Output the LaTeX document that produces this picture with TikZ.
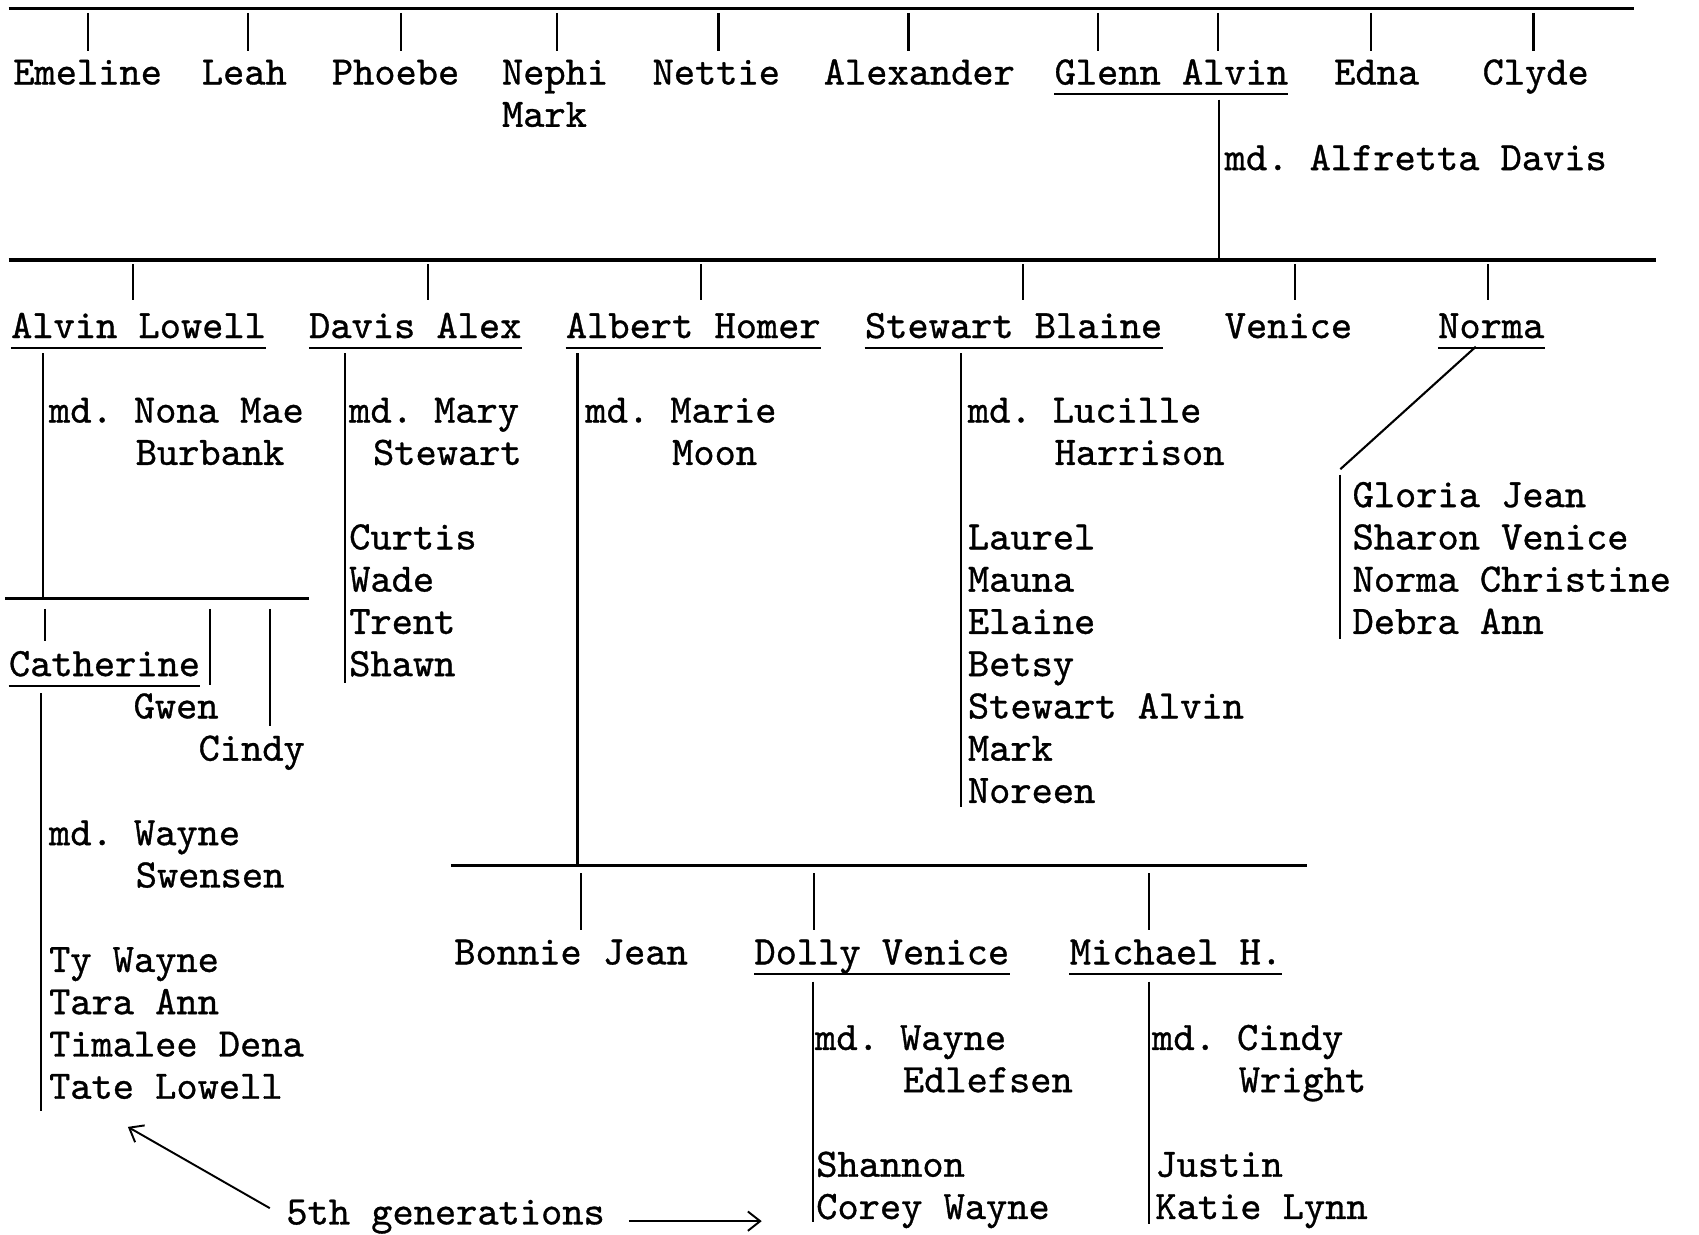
\documentclass[tikz,border=0pt]{standalone}
\usepackage{fontspec}
\newfontfamily\typeface{lmmono10-regular.otf}[FakeBold=0.8]
\usetikzlibrary{arrows.meta}
\newcommand{\typed}{\typeface\fontsize{23}{24}\selectfont\frenchspacing}
\tikzset{person/.style={anchor=base west,inner sep=0pt,font=\typed},
         genbar/.style={line width=1.8pt},
         drop/.style={line width=1.2pt},
         uline/.style={line width=1.4pt},
         arr/.style={line width=1.1pt,-{Straight Barb[length=7pt,width=11pt]}}}

\begin{document}
\begin{tikzpicture}[x=0.02167cm,y=-0.02167cm]
    \useasboundingbox (0,0) rectangle (1568,1139);
    % generation bars
    \draw[genbar] (8,8) coordinate (b1) -- (1508,8);
    \draw[genbar] (8,240) coordinate (b2) -- (1528,240);
    \draw[genbar] (5,552) coordinate (b3) -- (285,552);
    \draw[genbar] (416,799) coordinate (b4) -- (1206,799);
    % first row
    \node[person] (emeline)   at (12,78)   {Emeline};
    \node[person] (leah)      at (186,78)  {Leah};
    \node[person] (phoebe)    at (306,78)  {Phoebe};
    \node[person] (nephi)     at (463,78)  {Nephi};
    \node[person] (mark)      at (463,117) {Mark};
    \node[person] (nettie)    at (602,78)  {Nettie};
    \node[person] (alexander) at (760,78)  {Alexander};
    \node[person] (glenn)     at (973,78)  {Glenn Alvin};
    \node[person] (edna)      at (1231,78) {Edna};
    \node[person] (clyde)     at (1368,78) {Clyde};
    \node[person] (alfretta)  at (1130,157) {md. Alfretta Davis};
    \foreach \n/\dx in {emeline/0,leah/3,phoebe/5,nephi/2,nettie/2,alexander/-10,glenn/-68,glenn/43,edna/-5,clyde/-2}
        \draw[drop] ([shift={(\dx,0)}]\n.base |- b1) ++(0,4) -- ++(0,35);
    \draw[drop] ([shift={(-5,14)}]alfretta.base west |- glenn.base) coordinate (gt) -- (gt |- b2);
    % second row
    \node[person] (alvin)   at (10,312)   {Alvin Lowell};
    \node[person] (davis)   at (285,312)  {Davis Alex};
    \node[person] (albert)  at (522,312)  {Albert Homer};
    \node[person] (stewart) at (798,312)  {Stewart Blaine};
    \node[person] (venice)  at (1130,312) {Venice};
    \node[person] (norma)   at (1327,312) {Norma};
    \foreach \n/\dx in {alvin/-5,davis/12,albert/7,stewart/9,venice/6,norma/-3}
        \draw[drop] ([shift={(\dx,0)}]\n.base |- b2) ++(0,4) -- ++(0,33);
    % spouses
    \node[person] (alvinmd)  at (45,390)  {md. Nona Mae};
    \node[person] (alvinsp)  at (125,429) {Burbank};
    \node[person] (davismd)  at (322,390) {md. Mary};
    \node[person] (davissp)  at (344,429) {Stewart};
    \node[person] (albertmd) at (540,390) {md. Marie};
    \node[person] (albertsp) at (620,429) {Moon};
    \node[person] (stewmd)   at (893,390) {md. Lucille};
    \node[person] (stewsp)   at (973,429) {Harrison};
    % children lists
    \foreach \t [count=\i] in {Curtis,Wade,Trent,Shawn}
        \node[person] (dk\i) at (322,{468+39*\i}) {\t};
    \foreach \t [count=\i] in {Laurel,Mauna,Elaine,Betsy,Stewart Alvin,Mark,Noreen}
        \node[person] (sk\i) at (893,{468+39*\i}) {\t};
    \foreach \t [count=\i] in {Gloria Jean,Sharon Venice,Norma Christine,Debra Ann}
        \node[person] (nk\i) at (1248,{429+39*\i}) {\t};
    \draw[drop] ([shift={(-5,14)}]alvinmd.base west |- alvin.base) coordinate (at) -- (at |- b3);
    \draw[drop] ([shift={(-4,14)}]davismd.base west |- davis.base) -- ([shift={(-4,6)}]davismd.base west |- dk4.base);
    \draw[drop] ([shift={(-7,14)}]albertmd.base west |- albert.base) coordinate (ht) -- (ht |- b4);
    \draw[drop] ([shift={(-6,14)}]stewmd.base west |- stewart.base) -- ([shift={(-6,4)}]stewmd.base west |- sk7.base);
    \draw[drop] ([shift={(35,8)}]norma.base west) -- ([shift={(-11,-35)}]nk1.base west);
    \draw[drop] ([shift={(-11,-30)}]nk1.base west) -- ([shift={(-11,5)}]nk1.base west |- nk4.base);
    % Alvin Lowell's children
    \node[person] (cath)  at (8,624)   {Catherine};
    \node[person] (gwen)  at (123,663) {Gwen};
    \node[person] (cindy) at (183,702) {Cindy};
    \foreach \n/\dx/\len in {cath/-55/30,gwen/31/70,cindy/17/108}
        \draw[drop] ([shift={(\dx,0)}]\n.base |- b3) ++(0,10) -- ++(0,\len);
    \node[person] (cathmd) at (45,780)  {md. Wayne};
    \node[person] (cathsp) at (125,819) {Swensen};
    \foreach \t [count=\i] in {Ty Wayne,Tara Ann,Timalee Dena,Tate Lowell}
        \node[person] (ck\i) at (45,{858+39*\i}) {\t};
    \draw[drop] ([shift={(-7,16)}]cathmd.base west |- cath.base) -- ([shift={(-7,11)}]cathmd.base west |- ck4.base);
    % Albert Homer's children
    \node[person] (bonnie)  at (419,890) {Bonnie Jean};
    \node[person] (dolly)   at (696,890) {Dolly Venice};
    \node[person] (michael) at (987,890) {Michael H.};
    \foreach \n/\dx in {bonnie/9,dolly/-63,michael/-25}
        \draw[drop] ([shift={(\dx,0)}]\n.base |- b4) ++(0,7) -- ++(0,52);
    \node[person] (dollymd) at (752,969)   {md. Wayne};
    \node[person] (dollysp) at (833,1008)  {Edlefsen};
    \node[person] (michmd)  at (1063,969)  {md. Cindy};
    \node[person] (michsp)  at (1143,1008) {Wright};
    \foreach \t [count=\i] in {Shannon,Corey Wayne}
        \node[person] (yk\i) at (753,{1047+39*\i}) {\t};
    \foreach \t [count=\i] in {Justin,Katie Lynn}
        \node[person] (mk\i) at (1066,{1047+39*\i}) {\t};
    \draw[drop] ([shift={(-2,16)}]dollymd.base west |- dolly.base) -- ([shift={(-2,3)}]dollymd.base west |- yk2.base);
    \draw[drop] ([shift={(-3,16)}]michmd.base west |- michael.base) -- ([shift={(-3,5)}]michmd.base west |- mk2.base);
    % underlined names
    \foreach \n in {glenn,alvin,davis,albert,stewart,norma,cath,dolly,michael}
        \draw[uline] ([shift={(0,9)}]\n.base west) -- ([shift={(0,9)}]\n.base east);
    % note
    \node[person] (gen) at (264,1130) {5th generations};
    \coordinate (ae) at ([shift={(-50,2)}]yk2.base west);
    \draw[arr] ([shift={(-15,-15)}]gen.base west) -- ([shift={(73,26)}]ck4.base west);
    \draw[arr] (gen.base east |- ae) ++(22,0) -- (ae);
\end{tikzpicture}
\end{document}
